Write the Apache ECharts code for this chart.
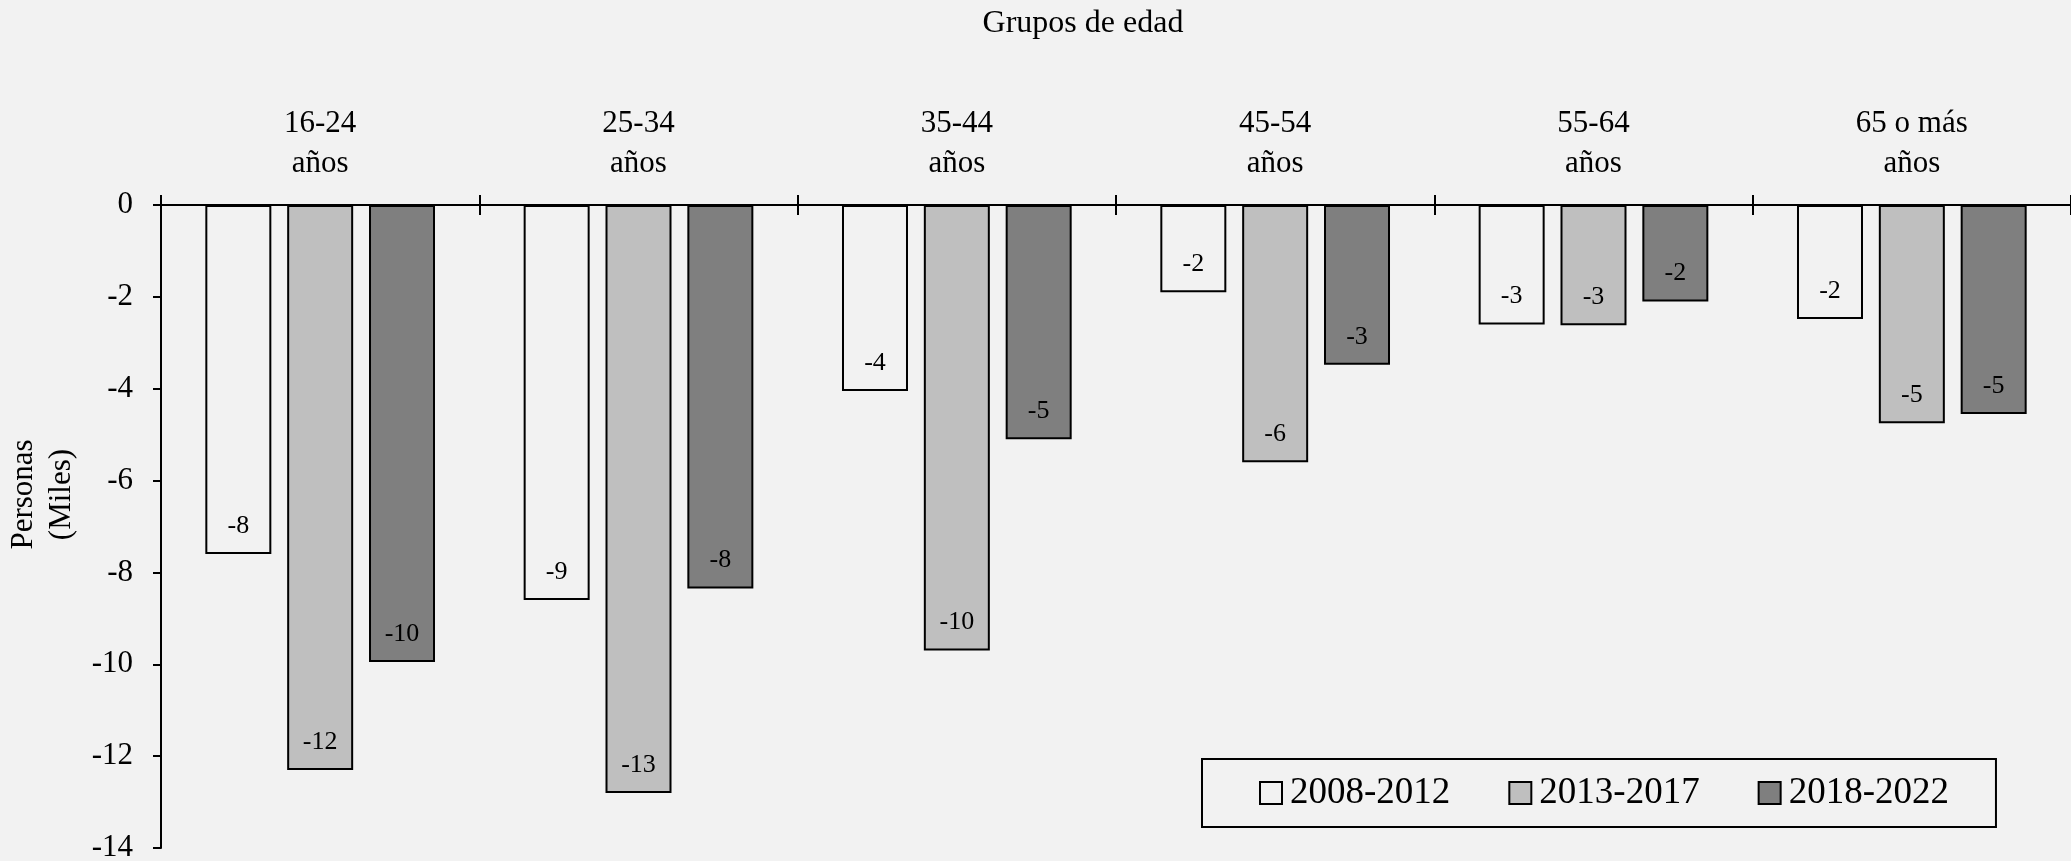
<!DOCTYPE html>
<html>
<head>
<meta charset="utf-8">
<script src="https://cdn.jsdelivr.net/npm/echarts@6/dist/echarts.min.js"></script>
<style>
html, body { margin: 0; padding: 0; background: #f2f2f2; }
#chart { width: 2071px; height: 861px; }
</style>
</head>
<body>
<div id="chart"></div>
<script>
var categories = ['16-24\naños', '25-34\naños', '35-44\naños', '45-54\naños', '55-64\naños', '65 o más\naños'];
var periods = ['2008-2012', '2013-2017', '2018-2022'];
var data2008 = [-7.6, -8.6, -4.05, -1.9, -2.6, -2.48];
var data2013 = [-12.3, -12.8, -9.7, -5.6, -2.62, -4.75];
var data2018 = [-9.95, -8.35, -5.1, -3.48, -2.1, -4.55];
var colors = ['#f2f2f2', '#bfbfbf', '#7f7f7f'];
var yTicks = { min: -14, max: 0, interval: 2 };

var font = 'Liberation Serif';
var allData = [data2008, data2013, data2018];

var series = [];
for (var i = 0; i < periods.length; i++) {
    series.push({
        name: periods[i],
        type: 'bar',
        xAxisIndex: 0,
        barWidth: 66,
        barGap: '24%',
        itemStyle: { color: colors[i], borderColor: '#000', borderWidth: 2 },
        label: {
            show: true,
            position: 'insideBottom',
            distance: 15,
            color: '#000',
            fontFamily: font,
            fontSize: 26,
            formatter: function (p) { return Math.round(p.value); }
        },
        data: allData[i]
    });
}

var myChart = echarts.init(document.getElementById('chart'));
var option = {
    backgroundColor: '#f2f2f2',
    animation: false,
    title: {
        text: 'Grupos de edad',
        left: 1078,
        top: 3,
        textAlign: 'center',
        textStyle: { fontFamily: font, fontSize: 32, fontWeight: 'normal', color: '#000' }
    },
    legend: {
        left: 1202,
        top: 759,
        itemGap: 58,
        itemWidth: 22,
        itemHeight: 22,
        icon: 'rect',
        padding: [14, 47, 14, 57],
        borderColor: '#000',
        borderWidth: 2,
        backgroundColor: '#f2f2f2',
        textStyle: { fontFamily: font, fontSize: 37, color: '#000', lineHeight: 40, padding: [0, 0, 0, 3] },
        data: periods
    },
    grid: { left: 161, right: 0, top: 205, bottom: 13, containLabel: false, outerBoundsMode: 'none' },
    xAxis: [{
        type: 'category',
        position: 'top',
        data: categories,
        axisLine: { lineStyle: { color: '#000', width: 2 } },
        axisTick: { show: true, length: 10, lineStyle: { color: '#000', width: 2 } },
        axisLabel: { fontFamily: font, fontSize: 31, color: '#000', lineHeight: 40, margin: 21, interval: 0 }
    }, {
        type: 'category',
        position: 'top',
        data: categories,
        axisLine: { show: false },
        axisTick: { show: true, inside: true, length: 10, lineStyle: { color: '#000', width: 2 } },
        axisLabel: { show: false }
    }],
    yAxis: {
        type: 'value',
        min: yTicks.min,
        max: yTicks.max,
        interval: yTicks.interval,
        name: 'Personas\n(Miles)',
        nameLocation: 'middle',
        nameRotate: 90,
        nameGap: 76,
        nameTextStyle: { fontFamily: font, fontSize: 31, color: '#000', lineHeight: 38, padding: [0, 0, 0, 64] },
        axisLine: { show: true, lineStyle: { color: '#000', width: 2 } },
        axisTick: { show: true, length: 8, lineStyle: { color: '#000', width: 2 } },
        axisLabel: { fontFamily: font, fontSize: 31, color: '#000', margin: 28 },
        splitLine: { show: false }
    },
    series: series
};
myChart.setOption(option);

window.onresize = function () {
    myChart.resize();
};
</script>
</body>
</html>
